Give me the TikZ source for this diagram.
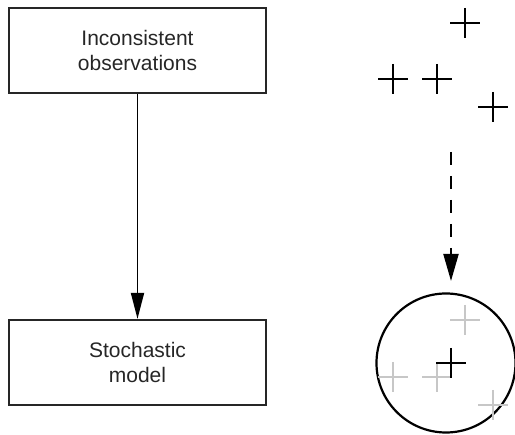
\documentclass[tikz,border=0pt]{standalone}
\usepackage{fontspec}
\setmainfont{Liberation Sans}
\usetikzlibrary{arrows.meta}

\tikzset{
  obscross/.pic={\draw[line width=2.2pt] (-15,0) -- (15,0) (0,-15) -- (0,15);},
}

\begin{document}
\begin{tikzpicture}[x=1pt, y=-1pt,
    box/.style={rectangle, draw=black!85, line width=2.2pt, minimum width=257pt,
      minimum height=85pt, align=center, inner sep=0pt,
      font=\fontsize{21}{25}\selectfont, text=black!85},
    faded/.style={color=black!22}]
  \useasboundingbox (0,0) rectangle (515,435);
  % left: observations -> model
  \node[box] (obs) at (137.5,50.5) {Inconsistent\\observations};
  \node[box] (model) at (137.5,362.5) {Stochastic\\model};
  \draw[-{Triangle[length=26pt,width=13pt]}, line width=1.8pt] (obs) -- (model);
  %
  % right: scattered points
  \path (465,23) pic {obscross}
        (393,79) pic {obscross}
        (437,79) pic {obscross}
        (493,107) pic {obscross};
  %
  \coordinate (top) at (451,152);
  \coordinate (bottom) at (451,281);
  \draw[-{Triangle[length=27pt,width=15pt]}, line width=2pt,
    dash pattern=on 13pt off 11pt] (top) -- (bottom);
  %
  % right: the spread of the points
  \node[circle, draw, line width=2.2pt, minimum size=139pt] (spread) at (446,363) {};
  \begin{scope}[every pic/.style={faded}]
    \path (465,320) pic {obscross}
          (393,377) pic {obscross}
          (437,377) pic {obscross}
          (493,405) pic {obscross};
  \end{scope}
  \path (451,363) pic {obscross};
\end{tikzpicture}
\end{document}
